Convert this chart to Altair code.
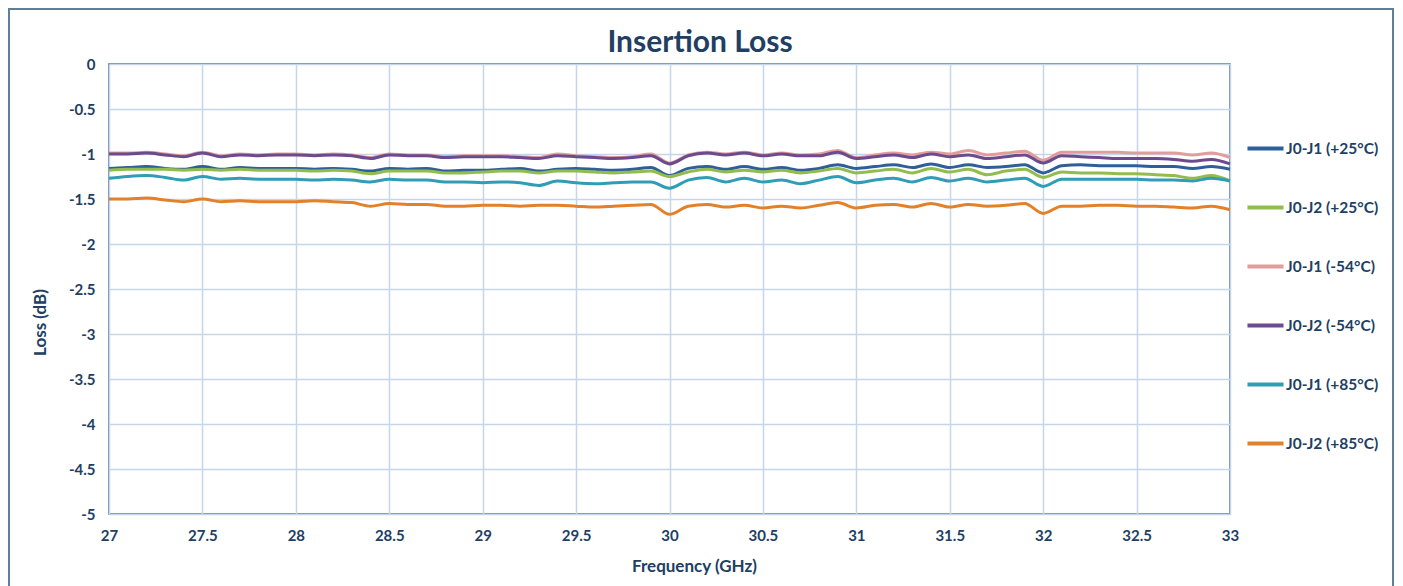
import altair as alt
import pandas as pd

freq = [27.0, 27.1, 27.2, 27.3, 27.4, 27.5, 27.6, 27.7, 27.8, 27.9,
        28.0, 28.1, 28.2, 28.3, 28.4, 28.5, 28.6, 28.7, 28.8, 28.9,
        29.0, 29.1, 29.2, 29.3, 29.4, 29.5, 29.6, 29.7, 29.8, 29.9,
        30.0, 30.1, 30.2, 30.3, 30.4, 30.5, 30.6, 30.7, 30.8, 30.9,
        31.0, 31.1, 31.2, 31.3, 31.4, 31.5, 31.6, 31.7, 31.8, 31.9,
        32.0, 32.1, 32.2, 32.3, 32.4, 32.5, 32.6, 32.7, 32.8, 32.9, 33.0]

j1_p25 = [-1.16, -1.15, -1.14, -1.16, -1.17, -1.14, -1.17, -1.15, -1.16, -1.16,
          -1.16, -1.17, -1.16, -1.17, -1.19, -1.16, -1.17, -1.16, -1.19, -1.18,
          -1.18, -1.17, -1.16, -1.19, -1.17, -1.16, -1.17, -1.18, -1.17, -1.15,
          -1.24, -1.16, -1.14, -1.17, -1.14, -1.17, -1.15, -1.18, -1.16, -1.12,
          -1.16, -1.14, -1.12, -1.15, -1.11, -1.15, -1.12, -1.15, -1.14, -1.12,
          -1.21, -1.13, -1.12, -1.13, -1.13, -1.13, -1.14, -1.14, -1.16, -1.14, -1.17]

j2_p25 = [-1.18, -1.17, -1.17, -1.17, -1.18, -1.17, -1.18, -1.17, -1.18, -1.18,
          -1.18, -1.19, -1.18, -1.19, -1.22, -1.19, -1.19, -1.19, -1.21, -1.21,
          -1.20, -1.19, -1.19, -1.21, -1.19, -1.19, -1.20, -1.21, -1.20, -1.19,
          -1.25, -1.20, -1.17, -1.20, -1.18, -1.20, -1.18, -1.21, -1.19, -1.16,
          -1.21, -1.19, -1.17, -1.21, -1.16, -1.20, -1.17, -1.23, -1.19, -1.17,
          -1.26, -1.20, -1.21, -1.21, -1.22, -1.22, -1.23, -1.24, -1.27, -1.24, -1.30]

j1_m54 = [-0.99, -0.99, -0.98, -1.00, -1.02, -0.98, -1.02, -1.00, -1.01, -1.00,
          -1.00, -1.01, -1.00, -1.01, -1.04, -1.00, -1.01, -1.01, -1.03, -1.02,
          -1.02, -1.02, -1.03, -1.04, -1.00, -1.02, -1.03, -1.04, -1.03, -1.00,
          -1.10, -1.01, -0.98, -1.00, -0.98, -1.01, -0.99, -1.01, -1.00, -0.96,
          -1.04, -1.01, -0.99, -1.01, -0.98, -1.00, -0.96, -1.01, -0.99, -0.97,
          -1.07, -0.98, -0.98, -0.98, -0.98, -0.99, -0.99, -0.99, -1.01, -0.99, -1.04]

j2_m54 = [-1.00, -1.00, -0.99, -1.01, -1.03, -0.99, -1.03, -1.01, -1.02, -1.01,
          -1.01, -1.02, -1.01, -1.02, -1.05, -1.01, -1.02, -1.02, -1.04, -1.03,
          -1.03, -1.03, -1.04, -1.05, -1.02, -1.03, -1.04, -1.05, -1.04, -1.02,
          -1.11, -1.02, -0.99, -1.01, -0.99, -1.02, -1.00, -1.02, -1.02, -0.98,
          -1.05, -1.03, -1.01, -1.04, -1.00, -1.03, -1.01, -1.05, -1.03, -1.01,
          -1.10, -1.02, -1.03, -1.04, -1.05, -1.05, -1.05, -1.06, -1.08, -1.06, -1.11]

j1_p85 = [-1.27, -1.25, -1.24, -1.26, -1.29, -1.25, -1.28, -1.27, -1.28, -1.28,
          -1.28, -1.29, -1.28, -1.29, -1.31, -1.28, -1.29, -1.29, -1.31, -1.31,
          -1.32, -1.31, -1.32, -1.35, -1.30, -1.32, -1.33, -1.32, -1.31, -1.31,
          -1.38, -1.29, -1.26, -1.31, -1.27, -1.31, -1.29, -1.33, -1.29, -1.25,
          -1.32, -1.29, -1.27, -1.31, -1.26, -1.30, -1.27, -1.31, -1.29, -1.27,
          -1.36, -1.28, -1.28, -1.28, -1.28, -1.28, -1.29, -1.29, -1.30, -1.27, -1.30]

j2_p85 = [-1.50, -1.50, -1.49, -1.51, -1.53, -1.50, -1.53, -1.52, -1.53, -1.53,
          -1.53, -1.52, -1.53, -1.54, -1.58, -1.55, -1.56, -1.56, -1.58, -1.58,
          -1.57, -1.57, -1.58, -1.57, -1.57, -1.58, -1.59, -1.58, -1.57, -1.56,
          -1.67, -1.58, -1.56, -1.59, -1.57, -1.60, -1.58, -1.60, -1.57, -1.54,
          -1.60, -1.57, -1.56, -1.59, -1.55, -1.59, -1.56, -1.58, -1.57, -1.55,
          -1.66, -1.58, -1.58, -1.57, -1.57, -1.58, -1.58, -1.59, -1.60, -1.58, -1.62]

series_names = ["J0-J1 (+25°C)", "J0-J2 (+25°C)", "J0-J1 (-54°C)",
                "J0-J2 (-54°C)", "J0-J1 (+85°C)", "J0-J2 (+85°C)"]
series_values = [j1_p25, j2_p25, j1_m54, j2_m54, j1_p85, j2_p85]
series_colors = ["#2f5f99", "#93bc4f", "#e39c9c", "#6b4a8e", "#2f9db5", "#e3802a"]

x_ticks = [27, 27.5, 28, 28.5, 29, 29.5, 30, 30.5, 31, 31.5, 32, 32.5, 33]
y_ticks = [0, -0.5, -1, -1.5, -2, -2.5, -3, -3.5, -4, -4.5, -5]

chart_title = "Insertion Loss"

rows = []
for order, (name, vals) in enumerate(zip(series_names, series_values)):
    for f, v in zip(freq, vals):
        rows.append({"Frequency": f, "Loss": v, "Series": name, "order": order})
df = pd.DataFrame(rows)

TXT = "#213e63"
FONT = "Lato"

lines = alt.Chart(df).mark_line(strokeWidth=3, interpolate="monotone").encode(
    x=alt.X("Frequency:Q",
            scale=alt.Scale(domain=[27, 33], nice=False, zero=False),
            axis=alt.Axis(values=x_ticks, labelExpr="'' + datum.value",
                          labelFlush=False,
                          title="Frequency (GHz)", titleX=585, titleY=52,
                          titleBaseline="middle")),
    y=alt.Y("Loss:Q",
            scale=alt.Scale(domain=[-5, 0], nice=False, zero=False),
            axis=alt.Axis(values=y_ticks, labelExpr="'' + datum.value",
                          labelFlush=False,
                          title="Loss (dB)", titleX=-69, titleY=258,
                          titleBaseline="middle")),
    color=alt.Color("Series:N",
                    scale=alt.Scale(domain=series_names, range=series_colors),
                    sort=series_names,
                    legend=alt.Legend(title=None, orient="none",
                                      legendX=1136, legendY=64,
                                      symbolType="stroke", symbolSize=1300,
                                      symbolStrokeWidth=4, labelOffset=0,
                                      rowPadding=30)),
    order=alt.Order("order:Q"),
)

frame = alt.Chart(pd.DataFrame({"a": [0]})).mark_rect(
    fill="transparent", stroke="#5f7f99", strokeWidth=2, clip=False
).encode(x=alt.value(-100), x2=alt.value(1284), y=alt.value(-55), y2=alt.value(600))

title = alt.Chart(pd.DataFrame({"t": [chart_title]})).mark_text(
    font=FONT, fontSize=30, fontWeight="bold", color=TXT,
    align="center", baseline="middle", clip=False
).encode(text="t:N", x=alt.value(591), y=alt.value(-21))

chart = alt.layer(frame, lines, title).properties(
    width=1121, height=450,
    autosize=alt.AutoSizeParams(type="none"),
    padding={"left": 101, "top": 56, "right": 165, "bottom": 72},
).configure_view(
    stroke="#44668a", strokeWidth=1.5
).configure_axis(
    grid=True, gridColor="#c6d6ea", gridWidth=1.5, domain=False, ticks=False,
    labelFont=FONT, labelFontSize=15, labelFontWeight="bold", labelColor=TXT,
    labelPadding=14,
    titleFont=FONT, titleFontSize=17, titleFontWeight="bold", titleColor=TXT,
).configure_legend(
    labelFont=FONT, labelFontSize=15.5, labelFontWeight="bold", labelColor=TXT,
)

chart.save("out.html", embed_options={"renderer": "svg", "actions": False})
